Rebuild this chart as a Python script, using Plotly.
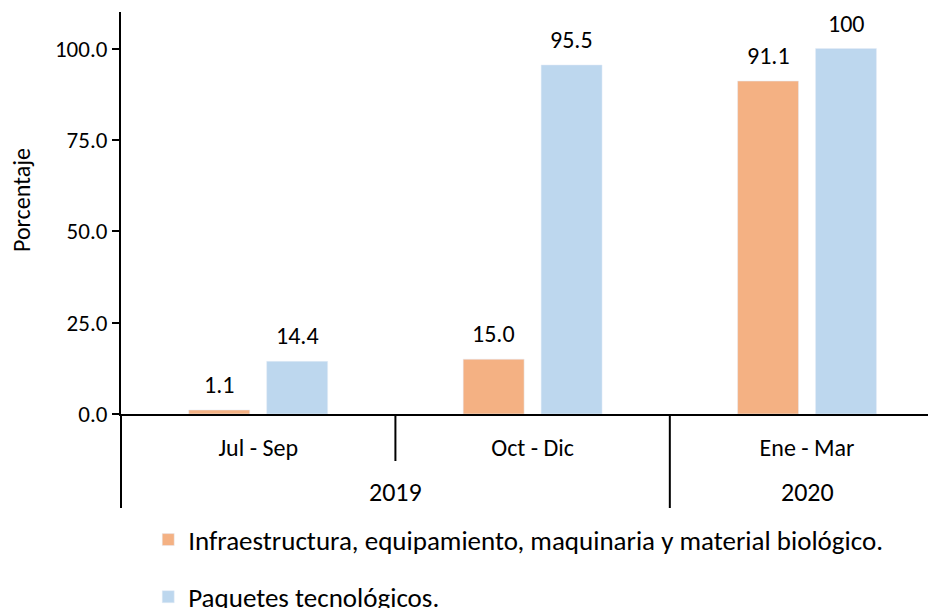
import plotly.graph_objects as go

quarters = ["Jul - Sep", "Oct - Dic", "Ene - Mar"]
years = ["2019", "2020"]
year_pos = [0.5, 2]
infra = [1.1, 15.0, 91.1]
paquetes = [14.4, 95.5, 100]
infra_txt = ["1.1", "15.0", "91.1"]
paq_txt = ["14.4", "95.5", "100"]
y_ticks = [0, 25, 50, 75, 100]
y_ticktext = ["0.0", "25.0", "50.0", "75.0", "100.0"]

names = ["Infraestructura, equipamiento, maquinaria y material biológico.",
         "Paquetes tecnológicos."]
colors = ["#F4B183", "#BDD7EE"]
FONT = "Carlito, Calibri, Lato, sans-serif"

fig = go.Figure()
fig.add_trace(go.Bar(x=quarters, y=infra, name=names[0], marker_color=colors[0],
                     legendgroup="a"))
fig.add_trace(go.Bar(x=quarters, y=paquetes, name=names[1], marker_color=colors[1],
                     legendgroup="b"))

annotations = []
for q, v, t in zip(quarters, infra, infra_txt):
    annotations.append(dict(x=q, y=v, text=t, xref="x", yref="y", showarrow=False,
                            xshift=-39, yanchor="bottom", yshift=9,
                            font=dict(size=24, color="#000", family=FONT)))
for q, v, t in zip(quarters, paquetes, paq_txt):
    annotations.append(dict(x=q, y=v, text=t, xref="x", yref="y", showarrow=False,
                            xshift=39, yanchor="bottom", yshift=9,
                            font=dict(size=24, color="#000", family=FONT)))
for yr, p in zip(years, year_pos):
    annotations.append(dict(x=p, y=-0.194, text=yr, xref="x", yref="paper",
                            showarrow=False, yanchor="middle",
                            font=dict(size=26, color="#000", family=FONT)))
annotations.append(dict(x=-0.1227, y=(414 - 200) / 402, text="Porcentaje", xref="paper",
                        yref="paper", showarrow=False, textangle=-90,
                        xanchor="center", yanchor="middle",
                        font=dict(size=24, color="#000", family=FONT)))

shapes = [
    dict(type="line", xref="paper", yref="paper", x0=0, x1=0, y0=0, y1=-94 / 402,
         line=dict(color="#000", width=2)),
    dict(type="line", xref="x", yref="paper", x0=0.5, x1=0.5, y0=0, y1=-47 / 402,
         line=dict(color="#000", width=2)),
    dict(type="line", xref="x", yref="paper", x0=1.5, x1=1.5, y0=0, y1=-94 / 402,
         line=dict(color="#000", width=2)),
]

fig.update_layout(
    width=928, height=600,
    margin=dict(l=113, r=0, t=4, b=194, autoexpand=False),
    paper_bgcolor="white", plot_bgcolor="white",
    font=dict(family=FONT, color="#000", size=22),
    barmode="group", bargap=0.432, bargroupgap=0.218,
    showlegend=True,
    legend=dict(x=0.0334, y=-0.2526, xanchor="left", yanchor="top",
                font=dict(size=27, family=FONT), tracegroupgap=19,
                traceorder="grouped", bgcolor="rgba(0,0,0,0)"),
    annotations=annotations, shapes=shapes,
)
fig.update_xaxes(range=[-0.5, 2.47], showline=True, linecolor="#000", linewidth=2,
                 ticks="", showgrid=False, zeroline=False, ticklabelstandoff=11,
                 automargin=False, tickfont=dict(size=24, family=FONT))
fig.update_yaxes(range=[0, 110], tickvals=y_ticks, ticktext=y_ticktext,
                 showline=True, linecolor="#000", linewidth=2, ticks="outside",
                 ticklen=7, tickwidth=2, tickcolor="#000", showgrid=False,
                 automargin=False, zeroline=False, tickfont=dict(size=23, family=FONT))

fig.write_html("out.html")
